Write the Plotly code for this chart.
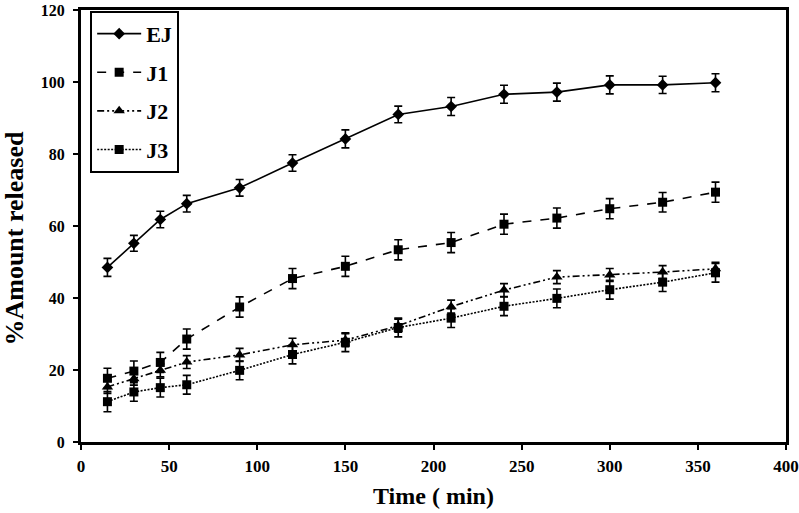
import plotly.graph_objects as go

time = [15, 30, 45, 60, 90, 120, 150, 180, 210, 240, 270, 300, 330, 360]

ej = [48.5, 55.2, 61.8, 66.2, 70.6, 77.5, 84.2, 91.0, 93.2, 96.6, 97.2, 99.2, 99.2, 99.8]
ej_err = [2.5, 2.2, 2.3, 2.3, 2.3, 2.3, 2.5, 2.3, 2.5, 2.5, 2.5, 2.5, 2.4, 2.5]

j1 = [17.7, 19.7, 22.1, 28.6, 37.5, 45.4, 48.8, 53.4, 55.4, 60.5, 62.2, 64.8, 66.6, 69.4]
j1_err = [2.8, 2.8, 2.8, 2.8, 2.8, 2.8, 2.8, 2.8, 2.8, 2.8, 2.8, 2.8, 2.7, 2.8]

j2 = [15.3, 17.6, 19.9, 22.2, 24.2, 27.0, 28.3, 32.3, 37.6, 42.2, 45.8, 46.4, 47.2, 48.1]
j2_err = [1.8, 1.8, 1.8, 1.8, 1.8, 1.8, 1.8, 1.8, 1.8, 1.8, 1.8, 1.8, 1.8, 1.8]

j3 = [11.2, 13.9, 15.1, 15.9, 19.9, 24.3, 27.7, 31.8, 34.4, 37.7, 39.9, 42.3, 44.4, 47.0]
j3_err = [2.8, 2.6, 2.6, 2.6, 2.6, 2.6, 2.6, 2.6, 2.6, 2.6, 2.6, 2.6, 2.6, 2.6]

x_ticks = [0, 50, 100, 150, 200, 250, 300, 350, 400]
y_ticks = [0, 20, 40, 60, 80, 100, 120]

series = [
    ("EJ", ej, ej_err, "solid", "diamond", 9),
    ("J1", j1, j1_err, "dash", "square", 9),
    ("J2", j2, j2_err, "7px,3px,2px,3px,2px,3px", "triangle-up", 10),
    ("J3", j3, j3_err, "2px,1.5px", "square", 9),
]

fig = go.Figure()
for name, vals, errs, dash, sym, size in series:
    fig.add_trace(go.Scatter(
        x=time, y=vals, name=name, mode="lines+markers",
        line=dict(color="black", width=1.6, dash=dash),
        marker=dict(symbol=sym, size=size, color="black"),
        error_y=dict(type="data", array=errs, visible=True, color="black",
                     thickness=1.6, width=4),
        legendgroup=name,
    ))

font_family = "Liberation Serif"
fig.update_layout(
    width=799, height=513,
    margin=dict(l=81, r=13, t=10, b=71),
    plot_bgcolor="white", paper_bgcolor="white",
    font=dict(family=font_family, color="black"),
    showlegend=True,
    legend=dict(
        x=0.013, y=0.998, xanchor="left", yanchor="top",
        bordercolor="black", borderwidth=2, bgcolor="white",
        font=dict(family=font_family, size=22, color="black", weight="bold"),
        tracegroupgap=7, itemwidth=44,
    ),
    xaxis=dict(
        range=[0, 400], tickvals=x_ticks,
        showline=True, linecolor="black", linewidth=3, mirror=True,
        ticks="outside", ticklen=5, tickwidth=2, tickcolor="black",
        ticklabelstandoff=2, ticklabeloverflow="allow",
        showgrid=False, zeroline=False, automargin=False,
        tickfont=dict(family=font_family, size=17, weight="bold"),
        title=dict(text="Time ( min)", font=dict(family=font_family, size=24, weight="bold"),
                   standoff=12),
    ),
    yaxis=dict(
        range=[0, 120], tickvals=y_ticks,
        showline=True, linecolor="black", linewidth=3, mirror=True,
        ticks="outside", ticklen=5, tickwidth=2, tickcolor="black",
        ticklabelstandoff=5, ticklabeloverflow="allow",
        showgrid=False, zeroline=False, automargin=False,
        tickfont=dict(family=font_family, size=16, weight="bold"),
    ),
    annotations=[dict(
        text="%Amount released", textangle=-90, showarrow=False,
        xref="paper", yref="paper", x=-0.0936, y=0.471,
        xanchor="center", yanchor="middle",
        font=dict(family=font_family, size=26, weight="bold", color="black"),
    )],
)

fig.write_html("out.html", config={"displayModeBar": False},
               post_script="document.body.style.margin='0px';")
